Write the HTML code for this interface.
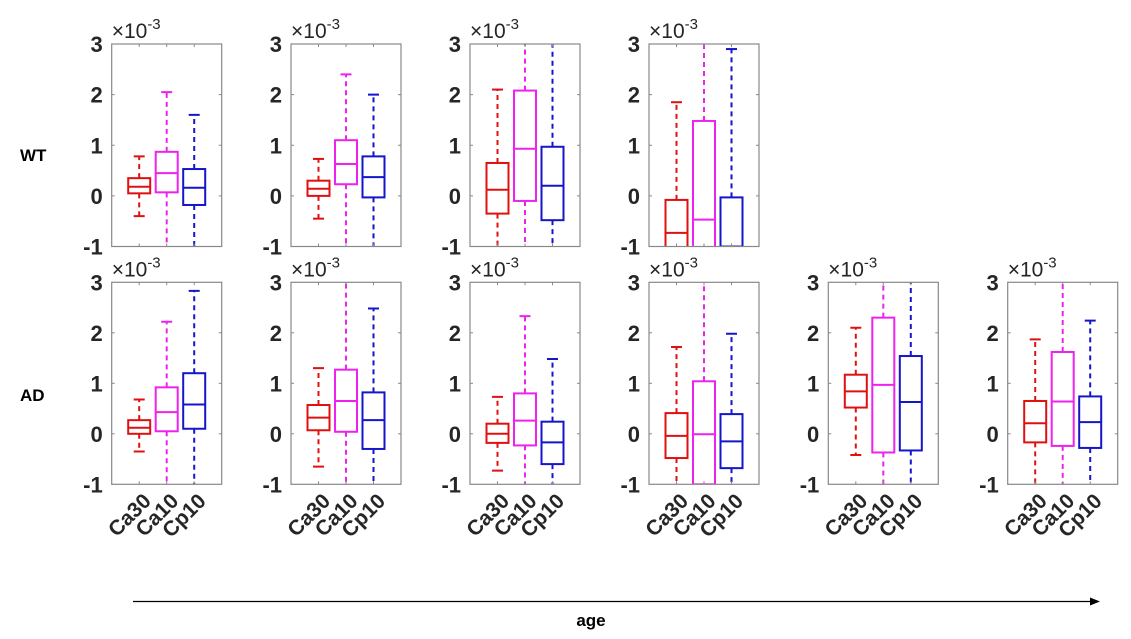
<!DOCTYPE html>
<html><head><meta charset="utf-8"><style>
body{margin:0;background:#fff}
svg{display:block;font-family:"Liberation Sans",sans-serif}
</style></head><body>
<svg id="chart" width="1131" height="639" viewBox="0 0 1131 639">
<defs></defs>
<text x="20" y="161" font-size="17" font-weight="bold" fill="#000">WT</text>
<text x="20" y="401" font-size="17" font-weight="bold" fill="#000">AD</text>
<line x1="133" y1="601.5" x2="1092" y2="601.5" stroke="#000" stroke-width="1.3"/>
<polygon points="1100,601.5 1090,597.5 1090,605.5" fill="#000"/>
<text x="591" y="626" font-size="17" font-weight="bold" text-anchor="middle" fill="#000">age</text>
</svg>
<script>
const categories = ["Ca30","Ca10","Cp10"];
const colors = ["#e01010","#ee22ee","#1515cc"];
const yTicks = [-1,0,1,2,3];
// each stat: [whiskerLow, q1, median, q3, whiskerHigh] in units of 1e-3
const wtPanels = [
  [[-0.4,0.05,0.18,0.35,0.78],[-1.5,0.07,0.45,0.87,2.05],[-1.5,-0.18,0.16,0.53,1.6]],
  [[-0.45,0.0,0.14,0.3,0.73],[-1.5,0.23,0.63,1.1,2.4],[-1.5,-0.03,0.37,0.78,2.0]],
  [[-1.5,-0.35,0.12,0.65,2.1],[-1.5,-0.1,0.93,2.08,3.5],[-1.5,-0.48,0.2,0.97,3.5]],
  [[-1.5,-1.5,-0.73,-0.08,1.85],[-1.5,-1.5,-0.47,1.48,3.5],[-1.5,-1.2,-1.0,-0.03,2.9]]
];
const adPanels = [
  [[-0.35,0.0,0.12,0.27,0.68],[-1.5,0.05,0.43,0.92,2.22],[-1.5,0.1,0.58,1.2,2.83]],
  [[-0.65,0.07,0.32,0.57,1.3],[-1.5,0.04,0.65,1.27,3.5],[-1.5,-0.3,0.27,0.82,2.48]],
  [[-0.73,-0.18,0.0,0.2,0.73],[-1.5,-0.23,0.26,0.8,2.33],[-1.5,-0.6,-0.17,0.24,1.48]],
  [[-1.5,-0.48,-0.04,0.41,1.72],[-1.5,-1.0,-0.01,1.04,3.5],[-1.5,-0.68,-0.15,0.39,1.98]],
  [[-0.42,0.52,0.84,1.17,2.1],[-1.5,-0.37,0.97,2.3,3.5],[-1.5,-0.33,0.63,1.54,3.5]],
  [[-1.5,-0.17,0.21,0.65,1.87],[-1.5,-0.24,0.64,1.62,3.5],[-1.5,-0.28,0.23,0.74,2.24]]
];

const NS="http://www.w3.org/2000/svg";
const svg=document.getElementById('chart');
const defs=svg.querySelector('defs');
const lefts=[111.7,291,470,649,828.3,1007.7];
const W=110;
function mk(tag,attrs,parent){const e=document.createElementNS(NS,tag);for(const k in attrs)e.setAttribute(k,attrs[k]);(parent||svg).appendChild(e);return e;}

function drawPanel(stats,left,top,bottom,rowName,idx,showX){
  const ymin=-1,ymax=3;
  const y=v=>bottom-(v-ymin)/(ymax-ymin)*(bottom-top);
  const x=i=>left+(i+1)/(categories.length+1)*W;
  const g=mk('g',{});
  
  
  const cid='clip-'+rowName+idx;
  const cp=mk('clipPath',{id:cid},defs);
  mk('rect',{x:left,y:top,width:W,height:bottom-top},cp);
  yTicks.forEach(t=>{
    const lbl=mk('text',{x:left-9,y:y(t)+8,'font-size':22,'font-weight':'bold','text-anchor':'end',fill:'#262626'},g);
    lbl.textContent=t;
    
    
    if(t>ymin&&t<ymax){
      mk('line',{x1:left,x2:left+3,y1:y(t),y2:y(t),stroke:'#888','stroke-width':1},g);
      mk('line',{x1:left+W,x2:left+W-3,y1:y(t),y2:y(t),stroke:'#888','stroke-width':1},g);
    }
  });
  const ex=mk('text',{x:left,y:top-6,'font-size':21,fill:'#262626'},g);
  ex.innerHTML='×10<tspan dy="-9" font-size="15">-3</tspan>';
  
  
  const bg=mk('g',{'clip-path':'url(#'+cid+')'},g);
  stats.forEach((s,i)=>{
    const cx=x(i),c=colors[i],hw=11,cw=5.5;
    const bx=mk('g',{},bg);
    
    
    mk('line',{x1:cx,x2:cx,y1:y(s[3]),y2:y(s[4]),stroke:c,'stroke-width':2,'stroke-dasharray':'5,4'},bx);
    mk('line',{x1:cx,x2:cx,y1:y(s[1]),y2:y(s[0]),stroke:c,'stroke-width':2,'stroke-dasharray':'5,4'},bx);
    mk('line',{x1:cx-cw,x2:cx+cw,y1:y(s[4]),y2:y(s[4]),stroke:c,'stroke-width':2},bx);
    mk('line',{x1:cx-cw,x2:cx+cw,y1:y(s[0]),y2:y(s[0]),stroke:c,'stroke-width':2},bx);
    mk('rect',{x:cx-hw,y:y(s[3]),width:2*hw,height:y(s[1])-y(s[3]),fill:'none',stroke:c,'stroke-width':2},bx);
    mk('line',{x1:cx-hw,x2:cx+hw,y1:y(s[2]),y2:y(s[2]),stroke:c,'stroke-width':2},bx);
  });
  categories.forEach((c,i)=>{
    mk('line',{x1:x(i),x2:x(i),y1:bottom,y2:bottom-3,stroke:'#888'},g);
    mk('line',{x1:x(i),x2:x(i),y1:top,y2:top+3,stroke:'#888'},g);
    if(showX){
      const t=mk('text',{transform:'translate('+(x(i)+13)+','+(bottom+18)+') rotate(-45)','font-size':21,'font-weight':'bold','text-anchor':'end',fill:'#262626'},g);
      t.textContent=c;
      
      
    }
  });
  mk('rect',{x:left,y:top,width:W,height:bottom-top,fill:'none',stroke:'#888','stroke-width':1.2},g);
}
wtPanels.forEach((p,i)=>drawPanel(p,lefts[i],44,246.5,'wt',i,false));
adPanels.forEach((p,i)=>drawPanel(p,lefts[i],282.3,484.3,'ad',i,true));
</script>
</body></html>
